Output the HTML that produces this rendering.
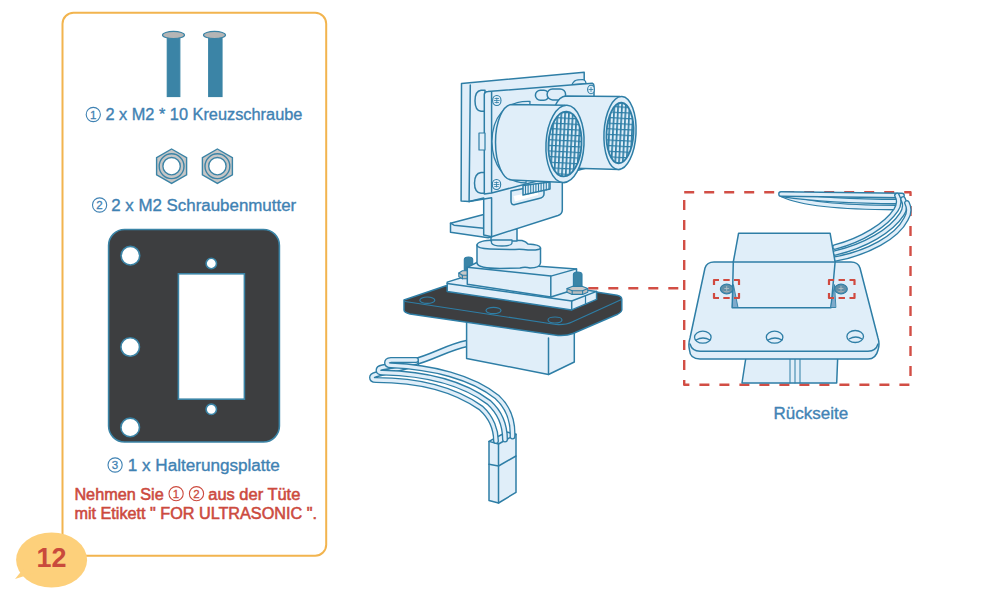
<!DOCTYPE html>
<html><head><meta charset="utf-8">
<style>
html,body{margin:0;padding:0;background:#fff;width:996px;height:598px;overflow:hidden}
svg{position:absolute;left:0;top:0}
text{font-family:"Liberation Sans",sans-serif}
.bt{stroke:#3F82B3;stroke-width:0.35}
.rt{stroke:#CC4A3E;stroke-width:0.55}
</style></head><body>
<svg width="996" height="598" viewBox="0 0 996 598">
<!-- card -->
<rect x="62.5" y="12.7" width="263.7" height="543" rx="11" ry="11" fill="none" stroke="#F2B44E" stroke-width="2"/>
<!-- bubble -->
<ellipse cx="51.6" cy="560" rx="35.5" ry="27.5" fill="#FDD07B"/>
<path d="M24 568 L15 579 L34 573 Z" fill="#FDD07B"/>
<text x="36.5" y="567.3" font-size="27" font-weight="700" fill="#C94A3C" textLength="30" lengthAdjust="spacingAndGlyphs">12</text>

<!-- screws -->
<g stroke="#3B84A6" stroke-width="1.2">
<rect x="167.3" y="37" width="12.5" height="59.5" fill="#3B84A6"/>
<ellipse cx="173.5" cy="35" rx="11" ry="3.6" fill="#B5B5B5"/>
<rect x="208.7" y="37" width="13.3" height="59.5" fill="#3B84A6"/>
<ellipse cx="214.5" cy="35" rx="11" ry="3.6" fill="#B5B5B5"/>
</g>
<g fill="#3F82B3">
<circle cx="93.3" cy="114.5" r="7.1" fill="none" stroke="#3F82B3" stroke-width="1.1"/><text x="93.2" y="118.6" font-size="11.5" text-anchor="middle" stroke="#3F82B3" stroke-width="0.3">1</text>
<text class="bt" x="105.4" y="120.3" font-size="16" textLength="197" lengthAdjust="spacingAndGlyphs">2 x M2 * 10 Kreuzschraube</text>
</g>

<!-- nuts -->
<g stroke="#3B84A6" stroke-width="1.4" fill="#C6C6C6">
<polygon points="171.6,149 186.6,157.6 186.6,174.8 171.6,183.4 156.6,174.8 156.6,157.6"/>
<circle cx="171.6" cy="166.2" r="12.4"/>
<circle cx="171.6" cy="166.2" r="8.7" fill="#fff"/>
<polygon points="217.4,149 232.4,157.6 232.4,174.8 217.4,183.4 202.4,174.8 202.4,157.6"/>
<circle cx="217.4" cy="166.2" r="12.4"/>
<circle cx="217.4" cy="166.2" r="8.7" fill="#fff"/>
</g>
<g fill="#3F82B3">
<circle cx="99.6" cy="205" r="7.1" fill="none" stroke="#3F82B3" stroke-width="1.1"/><text x="99.5" y="209.1" font-size="11.5" text-anchor="middle" stroke="#3F82B3" stroke-width="0.3">2</text>
<text class="bt" x="111.2" y="210.8" font-size="16" textLength="185" lengthAdjust="spacingAndGlyphs">2 x M2 Schraubenmutter</text>
</g>

<!-- plate -->
<g stroke="#3B84A6" stroke-width="1.6">
<path fill="#3D3E40" fill-rule="evenodd" d="M124.6,229.5 H263.4 A16,16 0 0 1 279.4,245.5 V426 A16,16 0 0 1 263.4,442 H124.6 A16,16 0 0 1 108.6,426 V245.5 A16,16 0 0 1 124.6,229.5 Z"/>
<rect x="178.4" y="273.8" width="66" height="125.4" fill="#fff"/>
<circle cx="130.4" cy="255.7" r="9.3" fill="#fff"/>
<circle cx="130.2" cy="347" r="9.3" fill="#fff"/>
<circle cx="130.2" cy="427.4" r="9.3" fill="#fff"/>
<circle cx="211.3" cy="263.5" r="5.2" fill="#fff"/>
<circle cx="211.3" cy="409.3" r="5.2" fill="#fff"/>
</g>
<g fill="#3F82B3">
<circle cx="115.1" cy="465" r="7.1" fill="none" stroke="#3F82B3" stroke-width="1.1"/><text x="115.0" y="469.1" font-size="11.5" text-anchor="middle" stroke="#3F82B3" stroke-width="0.3">3</text>
<text class="bt" x="127.8" y="470.9" font-size="16" textLength="152" lengthAdjust="spacingAndGlyphs">1 x Halterungsplatte</text>
</g>
<g fill="#CC4A3E">
<text x="74.4" y="500" class="rt" font-size="16" textLength="89.3" lengthAdjust="spacingAndGlyphs">Nehmen Sie</text>
<circle cx="176.1" cy="493.7" r="7.1" fill="none" stroke="#CC4A3E" stroke-width="1.1"/><text x="176.0" y="497.8" font-size="11.5" text-anchor="middle" stroke="#CC4A3E" stroke-width="0.3">1</text>
<circle cx="196.5" cy="493.7" r="7.1" fill="none" stroke="#CC4A3E" stroke-width="1.1"/><text x="196.4" y="497.8" font-size="11.5" text-anchor="middle" stroke="#CC4A3E" stroke-width="0.3">2</text>
<text x="208.3" y="500" class="rt" font-size="16" textLength="92" lengthAdjust="spacingAndGlyphs">aus der Tüte</text>
<text x="74.4" y="518.6" class="rt" font-size="16" textLength="242.5" lengthAdjust="spacingAndGlyphs">mit Etikett " FOR ULTRASONIC ".</text>
</g>
<defs><pattern id="mesh" width="3.8" height="5.6" patternUnits="userSpaceOnUse" x="0.3"><rect width="3.8" height="5.6" fill="#E0EEF9"/><path d="M0,0.6 H3.8" stroke="#2E7EA6" stroke-width="1.2"/><path d="M0.85,0 V5.6" stroke="#2E7EA6" stroke-width="1.7"/></pattern></defs>
<g id="diagram" stroke="#2E7EA6" stroke-width="1.5" stroke-linejoin="round" stroke-linecap="round" fill="#E0EEF9">
<!-- connector -->
<polygon points="489,441.4 506.5,432 516,434.3 516,492.4 498.5,503 489,500.6"/>
<polyline points="489,441.4 498.5,444 516,434.3" fill="none"/>
<line x1="498.5" y1="444" x2="498.5" y2="503"/>
<polyline points="489,464.3 498.5,466 516,456" fill="none"/>
<!-- wires -->
<g fill="none">
<path d="M467,343.5 C448,347 432,358 412,362.5" stroke="#2E7EA6" stroke-width="7.4"/><path d="M467,343.5 C448,347 432,358 412,362.5" stroke="#E0EEF9" stroke-width="4.4"/>
<path d="M416,364 L376,374.5 Q372,375.5 372,377.5 Q372,380 376,380 C418,380 454,389 481,408 C492,418 496,431 496,441" stroke="#2E7EA6" stroke-width="6.0"/><path d="M416,364 L376,374.5 Q372,375.5 372,377.5 Q372,380 376,380 C418,380 454,389 481,408 C492,418 496,431 496,441" stroke="#E0EEF9" stroke-width="3.3"/>
<path d="M416,362 L382.5,367.3 Q378.5,368 378.5,370.2 Q378.5,372.7 382.5,372.6 C425,373.5 463,383 489,402.5 C501,413.5 505,427 505,439.5" stroke="#2E7EA6" stroke-width="6.0"/><path d="M416,362 L382.5,367.3 Q378.5,368 378.5,370.2 Q378.5,372.7 382.5,372.6 C425,373.5 463,383 489,402.5 C501,413.5 505,427 505,439.5" stroke="#E0EEF9" stroke-width="3.3"/>
<path d="M416,360 L391,360 Q387,360.3 387,362.8 Q387,365.3 391,365.3 C432,367 472,377 497,397 C510,409 513,424 512.5,436.5" stroke="#2E7EA6" stroke-width="6.0"/><path d="M416,360 L391,360 Q387,360.3 387,362.8 Q387,365.3 391,365.3 C432,367 472,377 497,397 C510,409 513,424 512.5,436.5" stroke="#E0EEF9" stroke-width="3.3"/>
</g>
<!-- servo lower body -->
<polygon points="466.6,318 574.3,330 574.3,362 548.5,374.5 466.6,358.5"/>
<line x1="548.5" y1="338" x2="548.5" y2="374.5"/>
<!-- acrylic plate -->
<path fill="#3D3E40" d="M404,300 L446,285.8 L596,292 L617,295.3 Q621.8,296.2 621.8,299.5 L621.8,310 Q621.5,312.3 617,314.5 L573,333.5 Q567,336 558,335.5 L410,314 Q404,312.5 404,310 Z"/>
<path fill="none" stroke-width="1.2" d="M405,301.5 L556,324.5 Q566,325 572,322 L621.5,299.5"/>
<ellipse cx="427.3" cy="300.2" rx="7.5" ry="3.2" fill="none" stroke-width="1.2"/>
<ellipse cx="493.5" cy="310.5" rx="7.5" ry="3.2" fill="none" stroke-width="1.2"/>
<ellipse cx="555" cy="320" rx="7" ry="3" fill="none" stroke-width="1.2"/>
<!-- flange -->
<polygon points="447.2,282.1 470,275 596.6,291.4 596.6,299.4 571.7,309.9 447.2,291.4"/>
<polyline points="447.2,283.4 571.7,301 596.6,291.4" fill="none"/>
<line x1="571.7" y1="301" x2="571.7" y2="309.9"/>
<line x1="585.5" y1="295.5" x2="585.5" y2="304.5" stroke-width="1.2"/>
<g stroke-width="1.1"><path d="M464.3,276 L464.3,259.5 Q464.3,257 468.5,257 Q472.7,257 472.7,259.5 L472.7,276 Z" fill="#3B84A6"/><polygon points="458.8,273.0 458.8,276.6 462.4,278.8 469.6,278.8 473.2,276.6 473.2,273.0" fill="#BDBDBD"/><polygon points="458.8,273.0 462.4,270.8 469.6,270.8 473.2,273.0 469.6,275.2 462.4,275.2" fill="#C9C9C9"/><line x1="462.4" y1="275.2" x2="462.4" y2="278.8"/><line x1="469.6" y1="275.2" x2="469.6" y2="278.8"/></g>
<!-- servo upper body -->
<polygon points="467.3,267.3 477.8,262 576.5,268.9 576.5,289 550.8,297 467.3,284.2"/>
<polyline points="467.3,267.3 550.8,276.1 576.5,268.9" fill="none"/>
<line x1="550.8" y1="276.1" x2="550.8" y2="297"/>
<!-- horn -->
<path d="M477,245 L477,263 Q478,268.5 500,268.5 L520,268 Q525,266.5 530,268 Q540,268 540.5,263 L540.5,248 Z"/>
<path d="M477,245 Q477.5,240.5 495,240 L522,240.5 Q526,241.5 528,244 Q540,244.5 540.5,248 Q540,250.5 528,250 Q521,249 515,249.5 Q500,249.5 490,249 Q477,248.5 477,245 Z"/>
<path d="M491,229 L491,241 L517,241 L517,229 Z"/>
<path d="M491.5,240 L491.5,243 Q492.5,246 502,246 Q511.5,246 512,243 L512,240 Z" stroke-width="1.3"/>
<g stroke-width="1.1"><path d="M573.4,289 L573.4,274.5 Q573.4,272 577.7,272 Q582,272 582,274.5 L582,289 Z" fill="#3B84A6"/><polygon points="567.0,288.6 567.0,292.2 572.2,294.4 582.6,294.4 587.8,292.2 587.8,288.6" fill="#BDBDBD"/><polygon points="567.0,288.6 572.2,286.4 582.6,286.4 587.8,288.6 582.6,290.8 572.2,290.8" fill="#C9C9C9"/><line x1="572.2" y1="290.8" x2="572.2" y2="294.4"/><line x1="582.6" y1="290.8" x2="582.6" y2="294.4"/></g>
<!-- L bracket foot + neck -->
<polygon points="450.5,223.2 483.7,214.6 483.7,228.2 491.6,236.7 488.2,237.7 450.5,232.2"/>
<polyline points="450.5,223.2 454,225.2 483.7,228.2" fill="none"/>
<!-- back plate -->
<path d="M461.5,83.5 L584.2,72.3 L584.2,150 L562.3,165 L562.3,210 Q562.3,214 558,215.5 L491.6,236.7 L483.7,235 L483.7,198 L469.1,201.6 L461.1,201.1 Z"/>
<line x1="470.3" y1="85" x2="469.1" y2="201.6"/>
<polyline points="469.1,201.6 491.6,197.8 491.6,236.7" fill="none"/>
<!-- standoffs -->
<path d="M485,90.2 L481,90.2 Q475,91 475,100.7 Q475,110.5 481,111.3 L485,111.3 Z"/>
<path d="M485,172.5 L481,172.5 Q474.5,173.5 474.5,183 Q474.5,192.5 481,193.3 L485,193.3 Z"/>
<!-- PCB -->
<path d="M572,84.5 Q574,80 578,79.8 L583,79.5 Q586,80.5 586,83.5 Z" stroke-width="1.2"/>
<path d="M484.3,194 L484.3,94 Q485,91.5 488,91.5 L592.2,83.2 Q594,84 594,86 L594,166 L491.6,193 Z"/>
<line x1="491.6" y1="92.1" x2="491.6" y2="192.6"/>
<rect x="479" y="133" width="6" height="17" stroke-width="1.2"/>
<!-- slot -->
<path d="M511,191 L544,184.5 L544,194 Q544,197.5 539,198.5 L515,204.5 Q511,205.5 511,201 Z"/>
<path d="M513.5,196 L538,191 L538,195 L515,201.5 Z" fill="#fff" stroke="none"/>
<!-- pin header -->
<path d="M523,185.6 L550,182 L550,189 L523,195 Z" fill="#E0EEF9"/>
<g stroke-width="1.1"><line x1="525.5" y1="185.3" x2="525.5" y2="194.4"/><line x1="528.1" y1="184.9" x2="528.1" y2="193.9"/><line x1="530.7" y1="184.6" x2="530.7" y2="193.3"/><line x1="533.3" y1="184.3" x2="533.3" y2="192.7"/><line x1="535.9" y1="183.9" x2="535.9" y2="192.2"/><line x1="538.5" y1="183.6" x2="538.5" y2="191.6"/><line x1="541.1" y1="183.2" x2="541.1" y2="191.0"/><line x1="543.7" y1="182.9" x2="543.7" y2="190.4"/><line x1="546.3" y1="182.6" x2="546.3" y2="189.9"/><line x1="548.9" y1="182.2" x2="548.9" y2="189.3"/></g>
<!-- oscillator top -->
<rect x="535.4" y="90.3" width="13.5" height="10" rx="5"/>
<rect x="547.1" y="88.9" width="18.5" height="11" rx="5.5"/>
<!-- right cylinder -->
<path d="M566,96 L620,96.5 L620,169.5 L566,168 A16,36 0 0 1 566,96 Z"/>
<ellipse cx="620" cy="133" rx="16" ry="36.5" transform="rotate(3 620 133)"/>
<ellipse cx="620" cy="133" rx="13.5" ry="30.3" fill="url(#mesh)" stroke-width="1.8" transform="rotate(3 620 133)"/>
<!-- left cylinder -->
<path d="M530,101.5 C504,100.5 492,119 492,141.5 C492,164 504,182.5 526,183 Z" stroke-width="1.3"/>
<path d="M512,104.5 L565,105.3 L565,182.5 L512,180 A16.5,37.75 0 0 1 512,104.5 Z"/>
<ellipse cx="565" cy="143.9" rx="19" ry="38.6" transform="rotate(3 565 143.9)"/>
<ellipse cx="565" cy="144" rx="16.5" ry="32.5" fill="url(#mesh)" stroke-width="1.8" transform="rotate(3 565 144)"/>
<!-- pcb screws -->
<g stroke-width="1.1">
<ellipse cx="496.8" cy="100.5" rx="4.2" ry="5"/><path d="M494.3,100.5 H499.3 M496.8,98 V103 M495,98.5 H498.6 M495,102.5 H498.6" stroke-width="0.8"/>
<ellipse cx="496.5" cy="184.5" rx="4.2" ry="5"/><path d="M494,184.5 H499 M496.5,182 V187 M494.7,182.5 H498.3 M494.7,186.5 H498.3" stroke-width="0.8"/>
<ellipse cx="591" cy="89.5" rx="3.4" ry="4.2"/><path d="M589,89.5 H593 M591,87.5 V91.5" stroke-width="0.8"/>
</g>
</g>
<g id="detail" stroke="#2E7EA6" stroke-width="1.5" stroke-linejoin="round" stroke-linecap="round" fill="#E0EEF9">
<!-- red connector line -->
<line x1="588.3" y1="288.3" x2="684" y2="288.2" stroke="#D24E45" stroke-width="2.4" stroke-dasharray="10 10" stroke-linecap="butt"/>
<rect x="684.2" y="192.2" width="226.3" height="192.6" fill="none" stroke="#D24E45" stroke-linecap="butt" stroke-width="2.4" stroke-dasharray="10 10"/>
<!-- wires -->
<g fill="none">
<path d="M783,195 C800,203 840,207.5 896,207.5" stroke="#2E7EA6" stroke-width="5.8"/><path d="M783,195 C800,203 840,207.5 896,207.5" stroke="#E0EEF9" stroke-width="3.1"/>
<path d="M782,194.5 C805,198 850,201.5 899,201.5" stroke="#2E7EA6" stroke-width="5.8"/><path d="M782,194.5 C805,198 850,201.5 899,201.5" stroke="#E0EEF9" stroke-width="3.1"/>
<path d="M781,194 C800,194 850,195 902,195.5" stroke="#2E7EA6" stroke-width="5.8"/><path d="M781,194 C800,194 850,195 902,195.5" stroke="#E0EEF9" stroke-width="3.1"/>
<path d="M835,247 C862,240 886,225 896,210 Q901,202 897,195.5" stroke="#2E7EA6" stroke-width="5.8"/><path d="M835,247 C862,240 886,225 896,210 Q901,202 897,195.5" stroke="#E0EEF9" stroke-width="3.1"/>
<path d="M835,253 C865,246 891,231 902,214 Q907,206 903,199" stroke="#2E7EA6" stroke-width="5.8"/><path d="M835,253 C865,246 891,231 902,214 Q907,206 903,199" stroke="#E0EEF9" stroke-width="3.1"/>
<path d="M835,259 C868,253 897,237 906,219 Q911,211 907,203" stroke="#2E7EA6" stroke-width="5.8"/><path d="M835,259 C868,253 897,237 906,219 Q911,211 907,203" stroke="#E0EEF9" stroke-width="3.1"/>
</g>
<!-- lower servo body -->
<polygon points="746.3,355 837.8,355 836.7,383 742,383"/>
<g stroke-width="1"><line x1="790" y1="356" x2="790" y2="383"/><line x1="795" y1="356" x2="795" y2="383"/><line x1="800" y1="356" x2="800" y2="383"/></g>
<!-- base plate -->
<path d="M714,262 L851,262 Q858,262 860,268 L878,338 Q880,344 878,350 Q876,359 868,359 L700,359 Q690,359 689.5,350 Q688,344 690,338 L705,268 Q707,262 714,262 Z"/>
<path d="M690,344 Q692,351 700,351.3 L868,351.3 Q876,351 878,344" fill="none"/>
<g stroke-width="1.3">
<ellipse cx="702.8" cy="337.2" rx="8.3" ry="6"/>
<path d="M696,340 Q703,336 710,340" fill="none"/>
<ellipse cx="774.6" cy="337.2" rx="8.3" ry="6"/>
<path d="M768,340 Q775,336 782,340" fill="none"/>
<ellipse cx="855.2" cy="336.5" rx="8.3" ry="6"/>
<path d="M849,339 Q856,335 862,339" fill="none"/>
</g>
<!-- servo box -->
<polygon points="738.6,233.2 830.1,233.2 835.1,262 831,307.8 732.2,307.8 733.3,262"/>
<line x1="733.3" y1="262" x2="835.1" y2="262"/>
<!-- screws -->
<path d="M733.5,285 L738,307.5 L732.6,307.5 Z" fill="#7FAACB" stroke="#2E7EA6" stroke-width="0.9"/>
<path d="M834.5,285 L830.6,307.5 L835.5,307.5 Z" fill="#7FAACB" stroke="#2E7EA6" stroke-width="0.9"/>
<ellipse cx="726.7" cy="289" rx="6.3" ry="4.8" fill="#5F8FA8" stroke-width="1.2"/>
<path d="M722.5,290.5 Q726.7,294.5 731,290.5 Q726.7,292 722.5,290.5 Z" fill="#A7AEB2" stroke="none"/>
<path d="M724.7,288.5 H728.7 M726.7,286.5 V290.5" stroke="#B7C3C8" stroke-width="0.8"/>
<ellipse cx="841" cy="289" rx="6.3" ry="4.8" fill="#5F8FA8" stroke-width="1.2"/>
<path d="M836.8,290.5 Q841,294.5 845.3,290.5 Q841,292 836.8,290.5 Z" fill="#A7AEB2" stroke="none"/>
<path d="M839,288.5 H843 M841,286.5 V290.5" stroke="#B7C3C8" stroke-width="0.8"/>
<!-- dashed boxes -->
<g fill="none" stroke="#D04A40" stroke-linecap="butt" stroke-width="2.2">
<path d="M714,285.0 V280 H719.0 M734.0,280 H739 V285.0 M739,293.0 V298 H734.0 M719.0,298 H714 V293.0 M723.3,280 H729.7 M723.3,298 H729.7"/><path d="M829,285.0 V280 H834.0 M849.5,280 H854.5 V285.0 M854.5,293.0 V298 H849.5 M834.0,298 H829 V293.0 M838.55,280 H844.95 M838.55,298 H844.95"/>
</g>
</g>
<text class="bt" x="773.6" y="418.8" font-size="16" fill="#4384B6" textLength="74.5" lengthAdjust="spacingAndGlyphs">Rückseite</text>
</svg>
</body></html>
